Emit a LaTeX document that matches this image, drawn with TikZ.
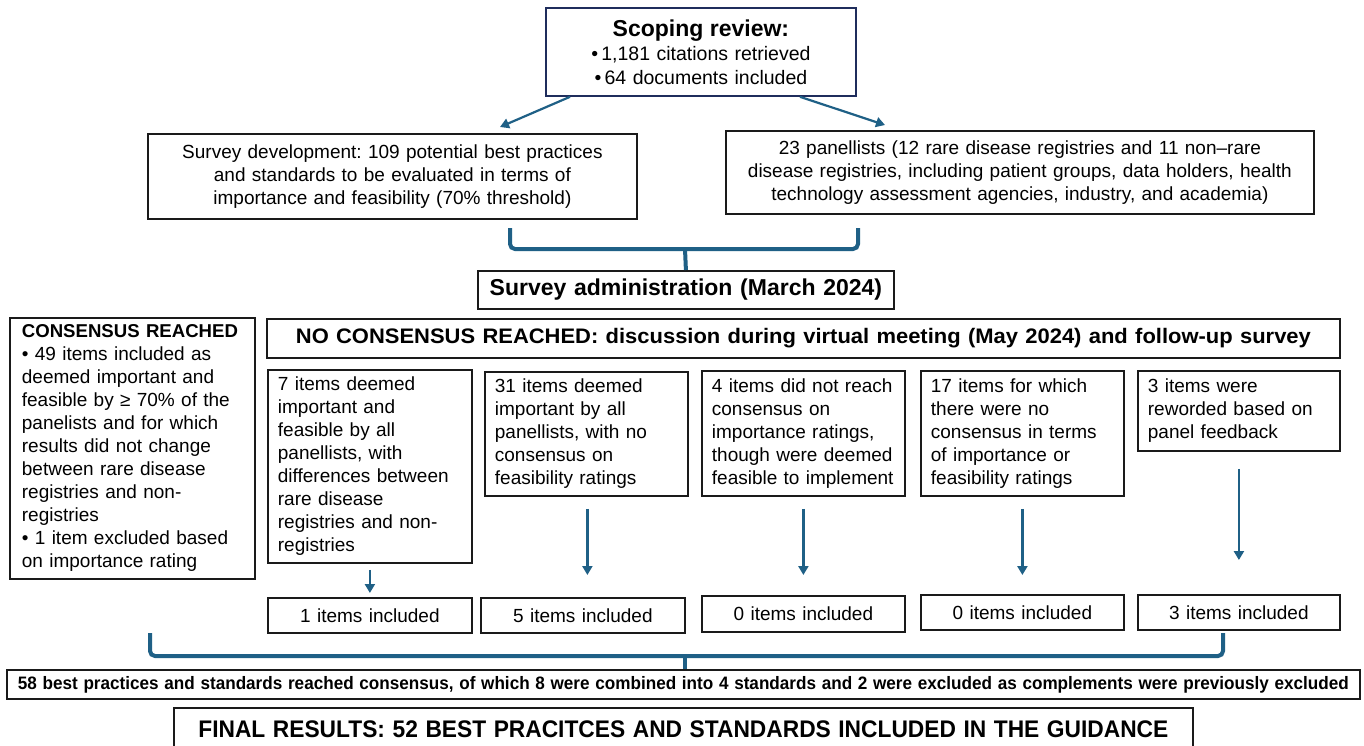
\documentclass[tikz,border=0pt]{standalone}
\usepackage{fontspec}
\setmainfont{Liberation Sans}
\usepackage{graphicx}
\usetikzlibrary{arrows.meta,calc}
\definecolor{arrc}{HTML}{1F6086}
\definecolor{navy}{HTML}{1F2D5C}
\definecolor{ink}{HTML}{1A1A1A}
\frenchspacing
\newsavebox\fitbox
\newlength\fitlen
\newcommand\fitw[2]{\sbox\fitbox{#2}\setlength\fitlen{\wd\fitbox}\pgfmathsetmacro\fitfac{#1/\fitlen}\scalebox{\fitfac}[1]{\usebox\fitbox}}
\begin{document}
\begin{tikzpicture}[x=1pt,y=-1pt,
  box/.style={draw=ink, line width=1.8, inner xsep=10, inner ysep=0, anchor=north west,
    font=\fontsize{19}{23}\selectfont},
  arr/.style={draw=arrc, line width=2.2, -{Triangle[width=10,length=9]}},
  brace/.style={draw=arrc, line width=4, rounded corners=5},
  stem/.style={draw=arrc, line width=4},
]
\clip (0,0) rectangle (1364,745);
\fill[white] (0,0) rectangle (1364,745);

% top
\node[box, draw=navy, text width=290, minimum height=88, align=center,
  font=\fontsize{19.5}{24}\selectfont] (sr) at (545,7)
  {{\bfseries\fontsize{23}{24}\selectfont Scoping review:}\\
   •\,1,181 citations retrieved\\
   •\,64 documents included};

\node[box, text width=469, minimum height=85, align=center] (sd) at (147,133)
  {Survey development: 109 potential best practices\\
   and standards to be evaluated in terms of\\
   importance and feasibility (70\% threshold)};

\node[box, text width=568, minimum height=83, align=center] (pan) at (725,130)
  {23 panellists (12 rare disease registries and 11 non–rare\\
   disease registries, including patient groups, data holders, health\\
   technology assessment agencies, industry, and academia)};

\draw[arr] ([xshift=25]sr.south west) -- ([xshift=353,yshift=6]sd.north west);
\draw[arr] ([xshift=255]sr.south west) -- ([xshift=160,yshift=5]pan.north west);

\node[box, text width=396, minimum height=38, align=center,
  font=\bfseries\fontsize{23}{24}\selectfont] (sa) at (477,270)
  {Survey administration (March 2024)};

\coordinate (br1l) at (510,228);
\coordinate (br1r) at (858,228);
\coordinate (br1m) at (685,249);
\draw[brace] (br1l) |- (br1m) -- (br1m -| br1r) -- (br1r);
\draw[stem] (br1m) -- (sa.north);

% consensus reached
\node[box, inner xsep=12, text width=221, minimum height=261, align=left] (cr) at (9,317)
  {{\bfseries\fontsize{18.6}{23}\selectfont CONSENSUS REACHED}\\
   • 49 items included as\\
   deemed important and\\
   feasible by ≥ 70\% of the\\
   panelists and for which\\
   results did not change\\
   between rare disease\\
   registries and non-\\
   registries\\
   • 1 item excluded based\\
   on importance rating};

% no consensus
\node[box, text width=1053, minimum height=39, align=center,
  font=\bfseries\fontsize{21}{22}\selectfont] (nc) at (266,318)
  {\fitw{1015}{NO CONSENSUS REACHED: discussion during virtual meeting (May 2024) and follow-up survey}};

% five boxes
\node[box, text width=184, minimum height=193, align=left] (b1) at (267,369)
  {7 items deemed\\ important and\\ feasible by all\\ panellists, with\\
   differences between\\ rare disease\\ registries and non-\\ registries};
\node[box, text width=183, minimum height=124, align=left] (b2) at (484,371)
  {31 items deemed\\ important by all\\ panellists, with no\\ consensus on\\ feasibility ratings};
\node[box, text width=183, minimum height=125, align=left] (b3) at (701,370)
  {4 items did not reach\\ consensus on\\ importance ratings,\\ though were deemed\\ feasible to implement};
\node[box, text width=183, minimum height=125, align=left] (b4) at (920,370)
  {17 items for which\\ there were no\\ consensus in terms\\ of importance or\\ feasibility ratings};
\node[box, text width=182, minimum height=80, align=left] (b5) at (1137,370)
  {3 items were\\ reworded based on\\ panel feedback};

% results
\node[box, text width=184, minimum height=35, align=center] (c1) at (267,597) {1 items included};
\node[box, text width=184, minimum height=35, align=center] (c2) at (480,597) {5 items included};
\node[box, text width=183, minimum height=36, align=center] (c3) at (701,595) {0 items included};
\node[box, text width=183, minimum height=35, align=center] (c4) at (920,594) {0 items included};
\node[box, text width=182, minimum height=35, align=center] (c5) at (1137,594) {3 items included};

\draw[arr, shorten <=6, shorten >=4] (b1.south) -- (b1.south |- c1.north);
\draw[arr, shorten <=12, shorten >=22] ([xshift=1]b2.south) -- ([xshift=1]b2.south |- c2.north);
\draw[arr, shorten <=12, shorten >=20] (b3.south) -- (b3.south |- c3.north);
\draw[arr, shorten <=12, shorten >=19] (b4.south) -- (b4.south |- c4.north);
\draw[arr, shorten <=17, shorten >=34] (b5.south) -- (b5.south |- c5.north);

% bottom
\node[box, text width=1333, minimum height=29, align=center,
  font=\bfseries\fontsize{18}{19}\selectfont] (f58) at (6,669)
  {\fitw{1331}{58 best practices and standards reached consensus, of which 8 were combined into 4 standards and 2 were excluded as complements were previously excluded}};

\node[box, text width=999, minimum height=42, align=center,
  font=\bfseries\fontsize{24}{25}\selectfont] (fin) at (173,707)
  {\fitw{970}{FINAL RESULTS: 52 BEST PRACITCES AND STANDARDS INCLUDED IN THE GUIDANCE}};

\coordinate (br2l) at (150,633);
\coordinate (br2r) at (1223,633);
\coordinate (br2m) at (685,656);
\draw[brace] (br2l) |- (br2m) -- (br2m -| br2r) -- (br2r);
\draw[stem] (br2m) -- (br2m |- f58.north);
\end{tikzpicture}
\end{document}
